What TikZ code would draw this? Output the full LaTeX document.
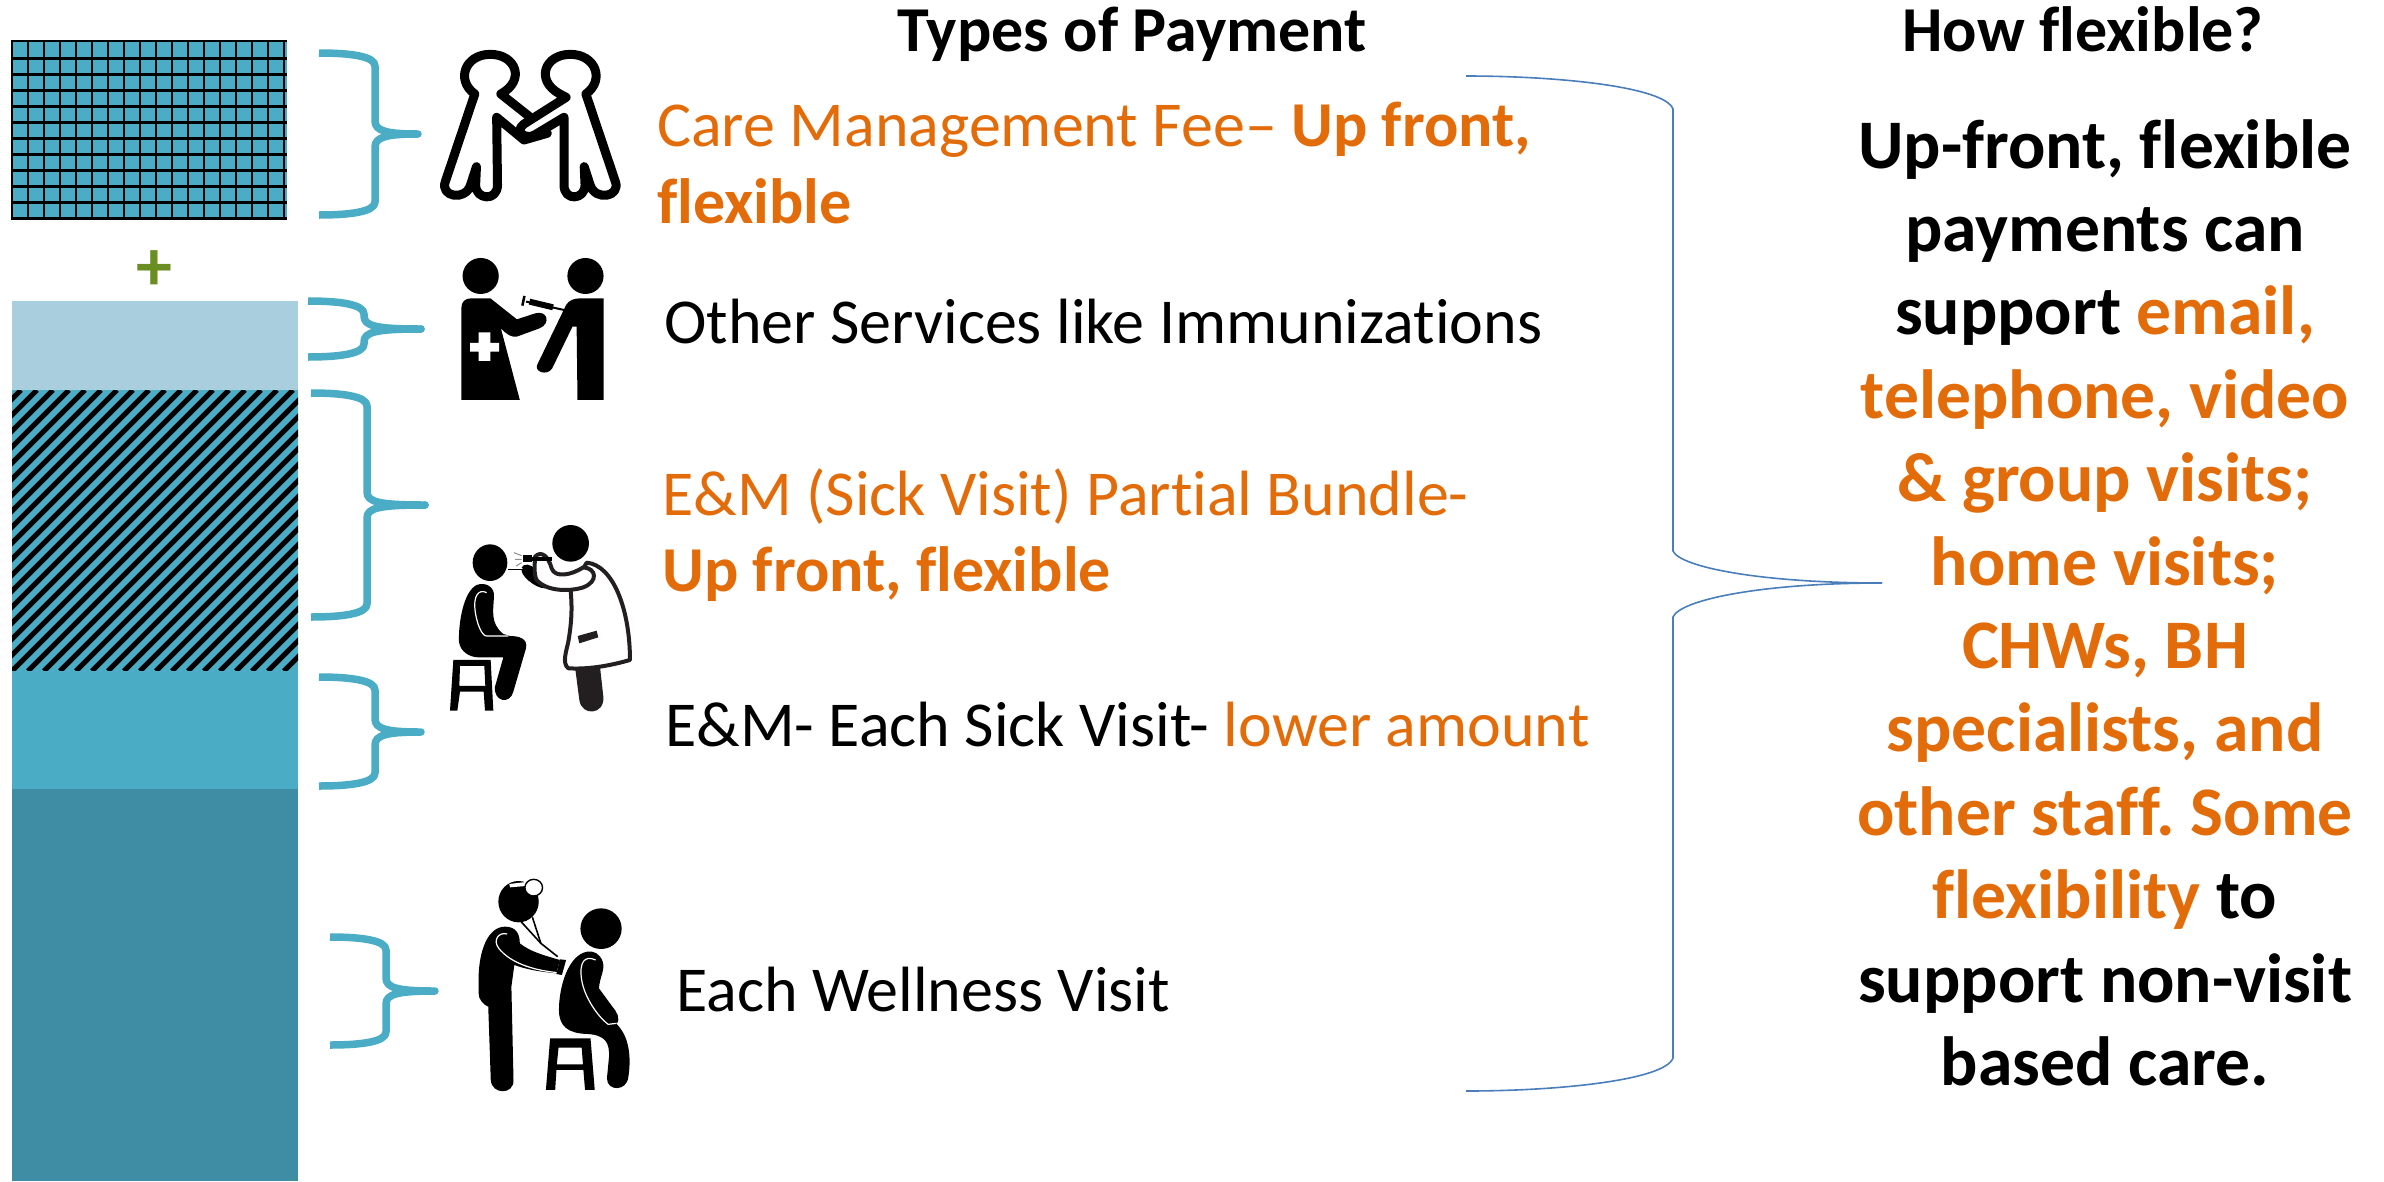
\documentclass[tikz,border=0pt]{standalone}
\usepackage{fontspec}
\setmainfont[Ligatures=NoCommon]{Carlito}
\frenchspacing
\definecolor{teal1}{HTML}{4BACC6}
\definecolor{teal2}{HTML}{3F8CA5}
\definecolor{teal3}{HTML}{A9CEDD}
\definecolor{orng}{HTML}{E36C0A}
\definecolor{bluel}{HTML}{4A7EBB}
\definecolor{grn}{HTML}{6A8E22}
\definecolor{dk}{HTML}{231F20}
\newcommand\orn[1]{\textcolor{orng}{#1}}
\newcommand\bracefig[6]{%
\draw[bracest] (#1,#4) .. controls ({#1+30},#4) and (#2,{#4+3}) .. (#2,{#4+13})
 -- (#2,{#5-13}) .. controls (#2,{#5-3}) and ({#2+12},#5) .. (#3,#5)
 .. controls ({#2+12},#5) and (#2,{#5+3}) .. (#2,{#5+13})
 -- (#2,{#6-13}) .. controls (#2,{#6-3}) and ({#1+30},#6) .. (#1,#6);}
\tikzset{
 bracest/.style={draw=teal1,line width=7.5pt,line join=round,line cap=butt},
 bigbrace/.style={draw=bluel,line width=1.6pt},
 bodytext/.style={anchor=base west,inner sep=0pt,align=left,font=\fontsize{64}{76}\selectfont},
 headtext/.style={anchor=base,inner sep=0pt,font=\fontsize{64}{70}\selectfont\bfseries},
 outl/.style={draw=black,line width=9pt,fill=white,line join=round},
 zoomxy/.style={x=0.4209pt,y=-0.3333pt},
 squarexy/.style={x=0.3333pt,y=-0.3333pt}
}
\begin{document}
\begin{tikzpicture}[x=1pt,y=-1pt]
\useasboundingbox (0,0) rectangle (2384,1181);
% stacked bar
\fill[teal1] (11,40) rectangle (287,219);
\begin{scope}
\clip (11,40) rectangle (287,219);
\foreach \k in {0,...,17} \draw[black,line width=2.4pt] ({12+16*\k},40) -- ({12+16*\k},219);
\foreach \k in {0,...,11} \draw[black,line width=2.4pt] (11,{41+(\k>0)*1.3+16*\k}) -- (287,{41+(\k>0)*1.3+16*\k});
\end{scope}
\node[inner sep=0pt,text=grn,font=\fontsize{72}{72}\selectfont\bfseries] (plus) at (154,271) {+};
\fill[teal3] (12,301) rectangle (298,390);
\fill[teal1] (12,390) rectangle (298,671);
\begin{scope}
\clip (12,390) rectangle (298,671);
\foreach \k in {-20,...,24} \draw[black,line width=5.2pt] ({12+16*\k},671) -- ({12+16*\k+281},390);
\end{scope}
\fill[teal1] (12,671) rectangle (298,789);
\fill[teal2] (12,789) rectangle (298,1181);
% braces
\bracefig{319}{375}{418}{53}{134}{215}
\bracefig{308}{364}{421}{301}{329}{357}
\fill[teal1] (421,329) circle (3.8);
\bracefig{311}{367}{425}{393}{505}{617}
\fill[teal1] (425,505) circle (3.8);
\bracefig{319}{375}{421}{677}{732}{786}
\bracefig{330}{386}{435}{937}{991}{1045}
% big brace
\draw[bigbrace] (1466,76) .. controls (1560,76) and (1665,87) .. (1673,109)
 -- (1673,551) .. controls (1680,567) and (1760,583) .. (1882,583);
\draw[bigbrace] (1882,583) .. controls (1760,583) and (1680,600) .. (1673,617)
 -- (1673,1058) .. controls (1665,1080) and (1560,1091) .. (1466,1091);
% icon 1
\begin{scope}[zoomxy]
\path[outl] (1128,282) .. controls (1082,240) and (1105,163) .. (1165,163)
 .. controls (1225,163) and (1250,240) .. (1190,282) -- (1258,350)
 -- (1300,400) -- (1245,420) -- (1180,352) -- (1182,555)
 .. controls (1182,605) and (1130,600) .. (1130,555) -- (1132,500) -- (1118,555)
 .. controls (1105,605) and (1045,590) .. (1058,545) -- cycle;
\path[outl] (1392,282) .. controls (1438,240) and (1415,163) .. (1355,163)
 .. controls (1295,163) and (1270,240) .. (1330,282) -- (1345,292) -- (1245,372)
 .. controls (1220,395) and (1250,420) .. (1270,405) -- (1340,352) -- (1340,555)
 .. controls (1340,605) and (1390,600) .. (1390,555) -- (1388,500) -- (1402,555)
 .. controls (1415,605) and (1475,590) .. (1462,545) -- cycle;
\end{scope}
% icon 2
\begin{scope}[zoomxy]
\fill (1142,828) ellipse [x radius=43,y radius=54];
\fill (1391,828) ellipse [x radius=43,y radius=54];
\fill (1096,1200) -- (1096,925) .. controls (1096,905) and (1105,895) .. (1120,895) -- (1165,895)
 -- (1228,958) -- (1272,940) .. controls (1300,930) and (1310,970) .. (1282,985) -- (1228,1010)
 .. controls (1215,1012) and (1205,1005) .. (1190,985) -- (1235,1200) -- cycle;
\fill[white] (1137,997) -- (1165,997) -- (1165,1029) -- (1186,1029) -- (1186,1055) -- (1165,1055)
 -- (1165,1083) -- (1137,1083) -- (1137,1055) -- (1117,1055) -- (1117,1029) -- (1137,1029) -- cycle;
\fill (1434,895) -- (1434,1200) -- (1372,1200) -- (1370,980) -- (1360,980) -- (1312,1105)
 .. controls (1300,1130) and (1265,1115) .. (1278,1090) -- (1345,915) .. controls (1352,900) and (1365,895) .. (1380,895) -- cycle;
\draw[line width=2pt] (1250,905) -- (1340,930);
\draw[line width=6pt] (1258,905) -- (1314,922);
\draw[line width=2.5pt] (1246,888) -- (1241,917);
\end{scope}
% icon 3
\begin{scope}[shift={(440,510)},squarexy]
\fill (150,158) ellipse [x radius=52,y radius=55];
\fill (110,225) .. controls (70,245) and (55,340) .. (57,395) .. controls (60,425) and (90,442) .. (115,442)
 -- (190,442) -- (165,530) .. controls (160,575) and (210,585) .. (220,545) -- (258,415)
 .. controls (265,385) and (235,378) .. (210,378) -- (190,372) .. controls (150,340) and (160,300) .. (162,260)
 .. controls (165,230) and (135,215) .. (110,225) -- cycle;
\draw[white,line width=1.2pt] (140,248) .. controls (115,235) and (100,260) .. (105,300)
 .. controls (110,340) and (125,378) .. (140,378) -- (205,378);
\fill[even odd rule] (40,450) -- (152,450) -- (160,602) -- (135,602) -- (131,545) -- (60,545) -- (52,602) -- (30,602) -- cycle
 (60,468) -- (133,468) -- (136,528) -- (58,528) -- cycle;
\fill[dk] (405,470) -- (418,570) .. controls (425,620) and (495,615) .. (490,560) -- (480,470) -- cycle;
\draw[dk,fill=white,line width=4pt,line join=round] (440,158) .. controls (520,165) and (570,300) .. (570,450)
 .. controls (500,470) and (440,478) .. (385,475) .. controls (365,460) and (380,420) .. (385,395)
 .. controls (398,320) and (395,280) .. (392,240) -- cycle;
\fill[dk] (413,378) -- (470,362) -- (475,382) -- (418,400) -- cycle;
\fill (250,178) -- (245,172) .. controls (250,160) and (275,160) .. (285,180)
 .. controls (290,200) and (305,225) .. (315,235) .. controls (285,235) and (240,195) .. (245,178) -- cycle;
\draw[dk,fill=white,line width=4pt,line join=round] (285,140) .. controls (305,120) and (325,140) .. (335,175)
 .. controls (345,205) and (395,195) .. (430,172) .. controls (470,175) and (475,215) .. (430,232)
 .. controls (390,245) and (320,245) .. (290,210) .. controls (280,190) and (285,160) .. (285,140) -- cycle;
\fill (250,135) rectangle (277,155);
\fill (277,140) rectangle (335,152);
\draw[line width=1.6pt] (205,178) -- (250,178);
\draw[black!45,line width=1pt] (222,128) -- (245,137) (225,148) -- (245,148) (228,168) -- (245,158);
\fill (392,100) ellipse [x radius=55,y radius=55];
\end{scope}
% icon 4
\begin{scope}[shift={(0,780)},zoomxy]
\fill (1232,365) ellipse [x radius=48,y radius=62];
\fill[white] (1210,312) -- (1250,306) -- (1250,318) -- (1212,322) -- cycle;
\draw[fill=white,line width=1.4pt] (1268,323) ellipse [x radius=21,y radius=25];
\fill (1200,440) .. controls (1160,440) and (1137,510) .. (1137,600) -- (1137,640)
 .. controls (1137,660) and (1150,675) .. (1160,680) -- (1166,900)
 .. controls (1168,945) and (1222,945) .. (1220,900) -- (1215,620) -- (1222,555)
 .. controls (1250,568) and (1280,575) .. (1322,580) -- (1330,540)
 .. controls (1290,525) and (1260,515) .. (1235,490) .. controls (1235,460) and (1225,440) .. (1200,440) -- cycle;
\draw[white,line width=1.2pt] (1205,462) .. controls (1185,455) and (1170,480) .. (1185,505)
 .. controls (1210,545) and (1260,570) .. (1325,578);
\fill (1330,538) -- (1345,540) -- (1335,585) -- (1322,582) -- cycle;
\draw[line width=1.6pt] (1238,425) -- (1285,490) -- (1325,530);
\draw[line width=1.6pt] (1265,412) -- (1285,490);
\fill (1428,446) ellipse [x radius=49,y radius=61];
\fill (1395,515) .. controls (1350,525) and (1328,620) .. (1328,690)
 .. controls (1328,740) and (1350,760) .. (1395,762) .. controls (1440,765) and (1448,790) .. (1447,830)
 -- (1442,895) .. controls (1442,935) and (1490,935) .. (1493,890)
 .. controls (1500,830) and (1495,770) .. (1465,732) .. controls (1475,715) and (1465,695) .. (1455,680)
 -- (1423,625) .. controls (1425,590) and (1438,570) .. (1432,545) .. controls (1425,520) and (1410,512) .. (1395,515) -- cycle;
\draw[white,line width=1.2pt] (1415,540) .. controls (1390,525) and (1375,545) .. (1382,600)
 .. controls (1388,650) and (1420,710) .. (1445,733) -- (1465,730);
\fill[even odd rule] (1307,775) -- (1403,775) -- (1413,930) -- (1390,930) -- (1386,870) -- (1322,870) -- (1319,930) -- (1297,930) -- cycle
 (1327,803) -- (1382,803) -- (1385,853) -- (1323,853) -- cycle;
\end{scope}
% texts
\node[headtext] (types) at (1132,51) {Types of Payment};
\node[headtext] (how) at (2083,51) {How flexible?};
\node[bodytext] (care) at (657,146) {\orn{Care Management Fee– \textbf{Up front,}}};
\node[bodytext] (careb) at (657,223) {\orn{\textbf{flexible}}};
\node[bodytext] (other) at (664,343) {Other Services like Immunizations};
\node[bodytext] (em) at (662,515) {\orn{E\&M (Sick Visit) Partial Bundle-}};
\node[bodytext] (emb) at (662,591) {\orn{\textbf{Up front, flexible}}};
\node[bodytext] (each) at (665,746) {E\&M- Each Sick Visit- \orn{lower amount}};
\node[bodytext] (well) at (676,1011) {Each Wellness Visit};
\node[anchor=north,inner sep=0pt,align=center,font=\fontsize{69.6}{83.4}\selectfont\bfseries] (flex) at (2105,119)
 {Up-front, flexible\\payments can\\support \orn{email,}\\\orn{telephone, video}\\\orn{\& group visits;}\\\orn{home visits;}\\\orn{CHWs, BH}\\\orn{specialists, and}\\\orn{other staff. Some}\\\orn{flexibility} to\\support non-visit\\based care.};
\end{tikzpicture}
\end{document}
